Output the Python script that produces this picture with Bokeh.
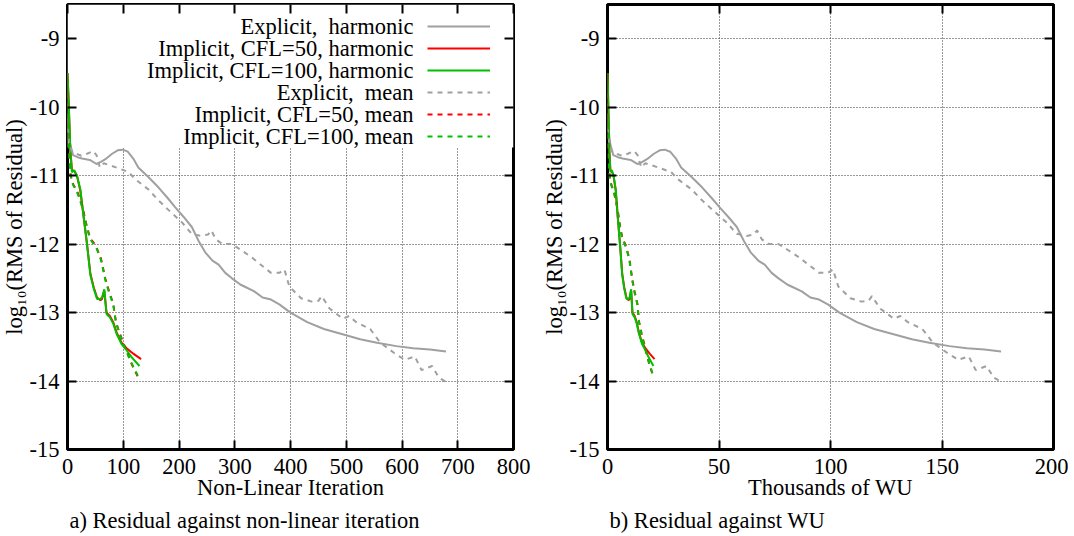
from bokeh.plotting import figure
from bokeh.models import (FixedTicker, LinearAxis, BoxAnnotation, Legend, LegendItem,
                          Label, Title, Range1d)
from bokeh.layouts import row
from bokeh.embed import file_html
from bokeh.resources import INLINE

FONT = "Liberation Serif"
FS = "22.5px"

# ---------------- data ----------------
# Explicit, harmonic
eh_it = [0, 2, 5, 10, 18, 26, 40, 52, 60, 68, 80, 90, 99, 108, 118, 127, 145, 163, 180, 193,
         208, 223, 235, 247, 260, 271, 283, 295, 310, 320, 335, 350, 365, 380, 400, 430, 460,
         495, 525, 555, 590, 620, 650, 679]
eh_wu = [0, 0.5, 1.3, 2.6, 4.7, 6.8, 10.4, 13.5, 15.6, 17.7, 20.8, 23.4, 25.7, 28.1, 30.7,
         33.0, 37.7, 42.4, 46.8, 50.2, 54.1, 58.0, 61.1, 64.2, 67.6, 70.5, 73.6, 76.7, 80.6,
         83.2, 87.1, 91.0, 94.9, 98.8, 104.0, 111.8, 119.6, 128.7, 136.5, 144.3, 153.4, 161.2,
         169.0, 176.5]
eh_y = [-10.15, -10.35, -10.55, -10.70, -10.73, -10.75, -10.77, -10.83, -10.80, -10.76,
        -10.68, -10.63, -10.62, -10.65, -10.75, -10.88, -11.02, -11.17, -11.33, -11.46,
        -11.60, -11.75, -11.95, -12.12, -12.24, -12.30, -12.42, -12.50, -12.59, -12.63,
        -12.69, -12.78, -12.81, -12.88, -13.00, -13.14, -13.24, -13.32, -13.39, -13.44,
        -13.49, -13.52, -13.54, -13.57]

# Implicit, CFL=50, harmonic
ih50_it = [0, 2, 5, 8, 12, 17, 23, 29, 35, 41, 47, 53, 59, 62, 66, 70, 76, 82, 88, 97,
           106, 118, 132]
ih50_wu = [0, 0.3, 0.8, 1.3, 1.9, 2.7, 3.7, 4.6, 5.6, 6.6, 7.5, 8.5, 9.4, 9.9, 10.6, 11.2,
           12.2, 13.1, 14.1, 15.5, 17.0, 18.9, 21.1]
ih50_y = [-9.5, -9.9, -10.63, -10.92, -10.93, -11.0, -11.22, -11.61, -12.0, -12.43, -12.63,
          -12.78, -12.82, -12.80, -12.68, -13.0, -13.05, -13.14, -13.29, -13.44, -13.52,
          -13.60, -13.68]

# Implicit, CFL=100, harmonic
ih100_it = [0, 2, 5, 8, 12, 17, 23, 29, 35, 41, 47, 53, 59, 62, 66, 70, 76, 82, 88, 97,
            106, 115, 129]
ih100_wu = [0, 0.3, 0.8, 1.3, 1.9, 2.7, 3.7, 4.6, 5.6, 6.6, 7.5, 8.5, 9.4, 9.9, 10.6, 11.2,
            12.2, 13.1, 14.1, 15.5, 17.0, 18.4, 20.6]
ih100_y = [-9.5, -9.9, -10.6, -10.95, -10.92, -11.0, -11.2, -11.6, -12.0, -12.45, -12.65,
           -12.80, -12.80, -12.78, -12.66, -13.02, -13.07, -13.16, -13.31, -13.46, -13.55,
           -13.65, -13.78]

# Explicit, mean
em_it = [0, 3, 9, 25, 35, 46, 52, 58, 65, 77, 94, 110, 121, 145, 163, 181, 205, 223, 240,
         252, 258, 266, 278, 295, 312, 330, 345, 365, 380, 389, 398, 419, 438, 450, 456, 470,
         494, 505, 518, 543, 561, 586, 605, 623, 635, 654, 666, 679]
em_wu = [0, 0.8, 2.3, 6.5, 9.1, 12.0, 13.5, 15.1, 16.9, 20.0, 24.4, 28.6, 31.5, 37.7, 42.4,
         47.1, 53.3, 58.0, 62.4, 65.5, 67.1, 69.2, 72.3, 76.7, 81.1, 85.8, 89.7, 94.9, 98.8,
         101.1, 103.5, 108.9, 113.9, 117.0, 118.6, 122.2, 128.4, 131.3, 134.7, 141.2, 145.9,
         152.4, 157.3, 162.0, 165.1, 170.0, 173.2, 176.5]
em_y = [-10.3, -10.55, -10.66, -10.71, -10.68, -10.64, -10.70, -10.88, -10.82, -10.85,
        -10.90, -10.95, -11.05, -11.20, -11.36, -11.50, -11.68, -11.85, -11.88, -11.86,
        -11.80, -11.93, -12.00, -12.00, -12.09, -12.19, -12.29, -12.42, -12.42, -12.37,
        -12.62, -12.79, -12.84, -12.83, -12.76, -12.94, -13.09, -13.05, -13.14, -13.24,
        -13.44, -13.59, -13.69, -13.64, -13.84, -13.78, -13.95, -14.01]

# Implicit, CFL=50, mean
im50_it = [0, 2, 5, 8, 11, 16, 21, 27, 35, 41, 47, 53, 60, 68, 75, 82, 87, 94, 103, 115, 127]
im50_wu = [0, 0.3, 0.8, 1.3, 1.8, 2.6, 3.4, 4.4, 5.7, 6.7, 7.7, 8.6, 9.8, 11.1, 12.2, 13.4,
           14.2, 15.3, 16.8, 18.7, 20.7]
im50_y = [-9.8, -10.5, -10.95, -11.08, -11.14, -11.2, -11.31, -11.46, -11.75, -11.92, -11.98,
          -12.07, -12.21, -12.51, -12.70, -12.87, -13.14, -13.31, -13.50, -13.75, -13.95]

# Implicit, CFL=100, mean
im100_it = [0, 2, 5, 8, 11, 16, 21, 27, 35, 41, 47, 53, 60, 68, 75, 82, 87, 94, 103, 115, 126]
im100_wu = [0, 0.3, 0.8, 1.3, 1.8, 2.6, 3.4, 4.4, 5.7, 6.7, 7.7, 8.6, 9.8, 11.1, 12.2, 13.4,
            14.2, 15.3, 16.8, 18.7, 20.5]
im100_y = [-9.8, -10.5, -10.97, -11.1, -11.15, -11.22, -11.32, -11.48, -11.77, -11.93, -12.0,
           -12.08, -12.23, -12.53, -12.72, -12.88, -13.15, -13.32, -13.52, -13.74, -13.92]

labels = ["Explicit,\u00a0 harmonic", "Implicit, CFL=50, harmonic",
          "Implicit, CFL=100, harmonic", "Explicit,\u00a0 mean", "Implicit, CFL=50, mean",
          "Implicit, CFL=100, mean"]

x_ticks_it = [0, 100, 200, 300, 400, 500, 600, 700, 800]
x_ticks_wu = [0, 50, 100, 150, 200]
y_ticks = [-15, -14, -13, -12, -11, -10, -9]

GRAY = "#a0a0a0"
RED = "#ff0000"
GREEN = "#00c000"
styles = [(GRAY, "solid"), (RED, "solid"), (GREEN, "solid"),
          (GRAY, "5 5"), (RED, "5 5"), (GREEN, "5 5")]


def style_axis(ax, ticks, show_labels=True):
    ax.ticker = FixedTicker(ticks=ticks)
    ax.major_tick_in = 9
    ax.major_tick_out = 0
    ax.minor_tick_line_color = None
    ax.major_tick_line_color = "black"
    ax.major_tick_line_width = 2
    ax.axis_line_color = None
    ax.major_label_text_font = FONT
    ax.major_label_overrides = {float(t): str(t) for t in ticks}
    if show_labels:
        ax.major_label_text_font_size = FS
        ax.major_label_text_color = "black"
    else:
        ax.major_label_text_font_size = "1px"
        ax.major_label_text_color = None
        ax.major_label_standoff = 0


def panel(xs, x_end, x_ticks, xlabel, caption, min_right, with_legend):
    ys = [eh_y, ih50_y, ih100_y, em_y, im50_y, im100_y]
    p = figure(frame_width=446, frame_height=445,
               x_range=Range1d(0, x_end), y_range=Range1d(-15, -8.5),
               output_backend="svg", toolbar_location=None,
               min_border_left=65, min_border_right=min_right,
               min_border_top=4, min_border_bottom=0)
    p.background_fill_color = "white"
    p.border_fill_color = "white"
    p.outline_line_color = "black"
    p.outline_line_width = 3
    p.outline_line_alpha = 1

    style_axis(p.xaxis[0], x_ticks)
    style_axis(p.yaxis[0], y_ticks)
    p.xaxis.major_label_standoff = 9
    p.yaxis.major_label_standoff = 8
    p.xaxis.axis_label = xlabel
    p.yaxis.axis_label = "log\u2081\u2080(RMS of Residual)"
    for ax in (p.xaxis[0], p.yaxis[0]):
        ax.axis_label_text_font = FONT
        ax.axis_label_text_font_size = FS
        ax.axis_label_text_font_style = "normal"
        ax.axis_label_text_color = "black"
    p.xaxis.axis_label_standoff = -2
    p.yaxis.axis_label_standoff = 0

    top = LinearAxis()
    style_axis(top, x_ticks, show_labels=False)
    p.add_layout(top, "above")
    right = LinearAxis()
    style_axis(right, y_ticks, show_labels=False)
    p.add_layout(right, "right")

    for g in (p.xgrid[0], p.ygrid[0]):
        g.grid_line_color = "#333333"
        g.grid_line_dash = "1 2"
        g.grid_line_width = 1
    p.xgrid.ticker = FixedTicker(ticks=x_ticks)
    p.ygrid.ticker = FixedTicker(ticks=y_ticks)

    if with_legend:
        p.add_layout(BoxAnnotation(bottom=-10.59, fill_color="white", fill_alpha=1,
                                   line_color=None, level="underlay"))

    rends = []
    for x, y, (c, d) in zip(xs, ys, styles):
        r = p.line(x, y, line_color=c, line_width=2, line_dash=d)
        rends.append(r)

    if with_legend:
        items = [LegendItem(label="", renderers=[r]) for r in rends]
        leg = Legend(items=items, location=(360, 302.5), padding=0, margin=0, spacing=0,
                     glyph_width=63, glyph_height=22, label_height=22, label_width=0,
                     label_standoff=0, label_text_font_size="12px",
                     border_line_color=None, background_fill_alpha=0)
        p.add_layout(leg, "center")
        ycent = [423.5, 401.5, 379.5, 357.5, 335.5, 313.5]
        for t, yy in zip(labels, ycent):
            p.add_layout(Label(x=346, y=yy, x_units="screen", y_units="screen", text=t,
                               text_align="right", text_baseline="middle",
                               text_font=FONT, text_font_size=FS, text_color="black"))

    p.add_layout(Title(text=caption, align="left", offset=2, text_font=FONT,
                       text_font_size=FS, text_font_style="normal",
                       text_color="black", standoff=6), "below")
    return p


p1 = panel([eh_it, ih50_it, ih100_it, em_it, im50_it, im100_it], 800, x_ticks_it,
           "Non-Linear Iteration", "a) Residual against non-linear iteration", 25, True)
p2 = panel([eh_wu, ih50_wu, ih100_wu, em_wu, im50_wu, im100_wu], 200, x_ticks_wu,
           "Thousands of WU", "b) Residual against WU", 15, False)

layout = row(p1, p2, margin=(0, 0, 0, -2))
open("out.html", "w").write(file_html(layout, INLINE))
